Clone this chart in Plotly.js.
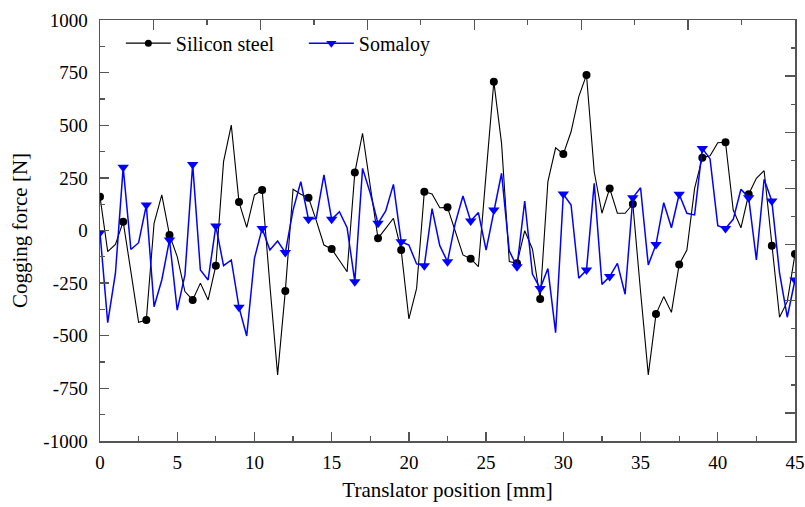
<!DOCTYPE html>
<html>
<head>
<meta charset="utf-8">
<script src="https://cdn.plot.ly/plotly-3.0.1.min.js"></script>
<style>
html,body{margin:0;padding:0;background:#fff;}
#chart{width:805px;height:507px;}
#chart text{font-family:"Liberation Serif","Times New Roman",Times,serif !important;}
</style>
</head>
<body>
<div id="chart"></div>
<script>
// Translator position [mm]
const position = [0,0.5,1,1.5,2,2.5,3,3.5,4,4.5,5,5.5,6,6.5,7,7.5,8,8.5,9,9.5,10,10.5,11,11.5,12,12.5,13,13.5,14,14.5,15,15.5,16,16.5,17,17.5,18,18.5,19,19.5,20,20.5,21,21.5,22,22.5,23,23.5,24,24.5,25,25.5,26,26.5,27,27.5,28,28.5,29,29.5,30,30.5,31,31.5,32,32.5,33,33.5,34,34.5,35,35.5,36,36.5,37,37.5,38,38.5,39,39.5,40,40.5,41,41.5,42,42.5,43,43.5,44,44.5,45];

// Cogging force [N] - Silicon steel
const siliconSteel = [160,-100,-66,42,-195,-436,-425,34,169,-21,-124,-290,-330,-250,-330,-167,327,501,135,15,169,192,-260,-686,-287,196,172,156,48,-69,-88,-140,-196,275,462,210,-37,10,58,-93,-420,-275,184,173,108,110,-5,-116,-134,-172,270,707,414,-148,-156,-1,-88,-325,232,393,363,469,636,739,279,82,200,82,82,126,-290,-686,-397,-314,-389,-161,-93,200,346,355,417,419,97,13,172,248,284,-72,-412,-338,-112];

// Cogging force [N] - Somaloy
const somaloy = [-10,-438,-203,300,-90,-58,121,-362,-235,-45,-378,-211,314,-188,-235,21,-167,-140,-365,-501,-132,10,-93,-50,-105,97,232,53,58,264,53,89,13,-243,295,177,34,93,219,-53,-69,-159,-167,104,-72,-148,34,164,45,85,-93,97,272,-97,-172,140,-207,-275,-181,-485,173,121,-227,-188,224,-256,-219,-156,-303,156,203,-164,-66,132,13,172,82,74,390,340,23,10,53,196,156,-140,243,140,-203,-412,-235];

const seriesNames = ['Silicon steel', 'Somaloy'];

// tick labels
const xTickVals = [0, 5, 10, 15, 20, 25, 30, 35, 40, 45];
const xTickText = ['0', '5', '10', '15', '20', '25', '30', '35', '40', '45'];
const yTickVals = [-1000, -750, -500, -250, 0, 250, 500, 750, 1000];
const yTickText = ['-1000', '-750', '-500', '-250', '0', '250', '500', '750', '1000'];

const markerEvery = 3;
const pick = arr => arr.filter((_, i) => i % markerEvery === 0);

const FONT = 'Liberation Serif';
const steelStyle = {color: '#000000', lw: 1.1, symbol: 'circle', size: 8};
const somaStyle = {color: '#0000FF', lw: 1.5, symbol: 'triangle-down', size: 10};

function traces(name, y, st) {
  return [
    {x: position, y: y, mode: 'lines', type: 'scatter', line: {color: st.color, width: st.lw},
     showlegend: false, legendgroup: name, name: name},
    {x: pick(position), y: pick(y), mode: 'markers', type: 'scatter',
     marker: {color: st.color, symbol: st.symbol, size: st.size, line: {width: 0}},
     showlegend: false, legendgroup: name, name: name},
    {x: [null], y: [null], mode: 'lines+markers', type: 'scatter', name: name, legendgroup: name,
     line: {color: st.color, width: st.lw},
     marker: {color: st.color, symbol: st.symbol, size: st.size - 1, line: {width: 0}}}
  ];
}

const data = [].concat(
  traces(seriesNames[0], siliconSteel, steelStyle),
  traces(seriesNames[1], somaloy, somaStyle)
);
// helper trace for the unlabeled top/right frame axes
data.push({x: [null], y: [null], xaxis: 'x2', yaxis: 'y2', showlegend: false, hoverinfo: 'skip', mode: 'lines'});

const axisLine = '#555555';
const tickFont = {family: FONT, size: 19, color: '#000000'};
const layout = {
  width: 805, height: 507,
  margin: {l: 100, r: 10, t: 20, b: 66},
  paper_bgcolor: '#ffffff', plot_bgcolor: '#ffffff',
  font: {family: FONT, size: 19, color: '#000000'},
  showlegend: true,
  legend: {orientation: 'h', x: 0.03, y: 0.945, xanchor: 'left', yanchor: 'middle',
           font: {family: FONT, size: 20, color: '#000000'}, bgcolor: 'rgba(0,0,0,0)',
           itemwidth: 45, tracegroupgap: 0, entrywidth: 123},
  xaxis: {
    range: [0, 45], tickmode: 'array', tickvals: xTickVals, ticktext: xTickText,
    ticks: 'inside', ticklen: 9, tickwidth: 1.3, tickcolor: axisLine,
    minor: {dtick: 2.5, ticks: 'inside', ticklen: 5, tickwidth: 1.3, tickcolor: axisLine},
    showline: true, linecolor: axisLine, linewidth: 1.5, mirror: false, showgrid: false, zeroline: false,
    tickfont: tickFont, ticklabelstandoff: 4,
    title: {text: 'Translator position [mm]', font: {family: FONT, size: 21, color: '#000000'}, standoff: 10}
  },
  yaxis: {
    range: [-1000, 1000], tickmode: 'array', tickvals: yTickVals, ticktext: yTickText,
    ticks: 'inside', ticklen: 9, tickwidth: 1.3, tickcolor: axisLine,
    minor: {dtick: 125, ticks: 'inside', ticklen: 5, tickwidth: 1.3, tickcolor: axisLine},
    showline: true, linecolor: axisLine, linewidth: 1.5, mirror: false, showgrid: false, zeroline: false,
    tickfont: tickFont, ticklabelstandoff: 7,
    title: {text: 'Cogging force [N]', font: {family: FONT, size: 21, color: '#000000'}, standoff: 10}
  },
  xaxis2: {
    overlaying: 'x', side: 'top', anchor: 'y2', range: [0, 13], tick0: 1, dtick: 2,
    ticks: 'inside', ticklen: 10, tickwidth: 1.3, tickcolor: axisLine,
    minor: {dtick: 1, ticks: 'inside', ticklen: 4.5, tickwidth: 1.3, tickcolor: axisLine},
    showticklabels: false, showline: true, linecolor: axisLine, linewidth: 1.5, showgrid: false, zeroline: false
  },
  yaxis2: {
    overlaying: 'y', side: 'right', anchor: 'x2', range: [0, 15], tick0: 1, dtick: 2,
    ticks: 'inside', ticklen: 10, tickwidth: 1.3, tickcolor: axisLine,
    minor: {dtick: 1, ticks: 'inside', ticklen: 4.5, tickwidth: 1.3, tickcolor: axisLine},
    showticklabels: false, showline: true, linecolor: axisLine, linewidth: 1.5, showgrid: false, zeroline: false
  }
};

Plotly.newPlot('chart', data, layout, {staticPlot: true, displayModeBar: false});
</script>
</body>
</html>
